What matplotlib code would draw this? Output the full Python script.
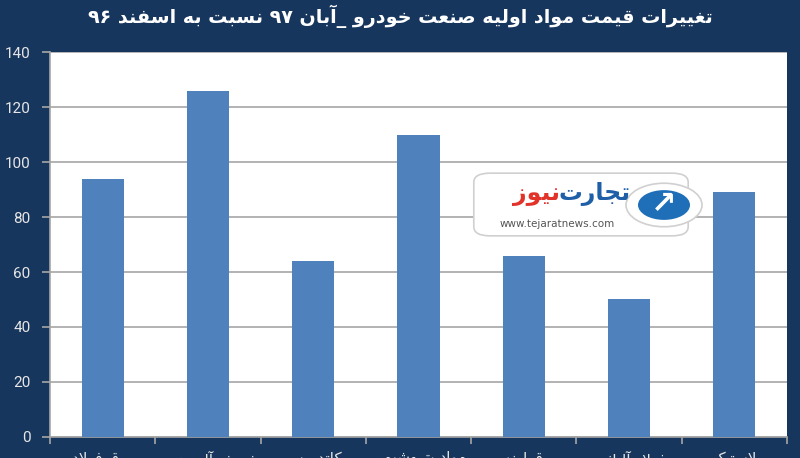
import re
import matplotlib
matplotlib.use('Agg')
import matplotlib.pyplot as plt
from matplotlib.patches import FancyBboxPatch, Circle

# data
categories = ['ورق فولاد', 'شمش آلومینیوم', 'کاتد مس', 'مواد پتروشیمی',
              'قراضه', 'فولاد آلیاژی', 'لاستیک']
values = [94, 126, 64, 110, 66, 50, 89]
yticks = [0, 20, 40, 60, 80, 100, 120, 140]
title = 'تغییرات قیمت مواد اولیه صنعت خودرو _آبان ۹۷ نسبت به اسفند ۹۶'

bg = '#17365d'
bar_color = '#4f81bd'

# minimal arabic/persian shaping (matplotlib does no joining or bidi)
FORMS = {
    'ا': '\ufe8d\ufe8e', 'آ': '\ufe81\ufe82', 'د': '\ufea9\ufeaa', 'ر': '\ufead\ufeae',
    'ز': '\ufeaf\ufeb0', 'ژ': '\ufb8a\ufb8b', 'و': '\ufeed\ufeee',
    'ب': '\ufe8f\ufe90\ufe91\ufe92', 'ت': '\ufe95\ufe96\ufe97\ufe98',
    'ج': '\ufe9d\ufe9e\ufe9f\ufea0', 'خ': '\ufea5\ufea6\ufea7\ufea8',
    'س': '\ufeb1\ufeb2\ufeb3\ufeb4', 'ش': '\ufeb5\ufeb6\ufeb7\ufeb8',
    'ص': '\ufeb9\ufeba\ufebb\ufebc', 'ض': '\ufebd\ufebe\ufebf\ufec0',
    'ع': '\ufec9\ufeca\ufecb\ufecc', 'غ': '\ufecd\ufece\ufecf\ufed0',
    'ف': '\ufed1\ufed2\ufed3\ufed4', 'ق': '\ufed5\ufed6\ufed7\ufed8',
    'ک': '\ufb8e\ufb8f\ufb90\ufb91', 'ل': '\ufedd\ufede\ufedf\ufee0',
    'م': '\ufee1\ufee2\ufee3\ufee4', 'ن': '\ufee5\ufee6\ufee7\ufee8',
    'ه': '\ufee9\ufeea\ufeeb\ufeec', 'ی': '\ufbfc\ufbfd\ufbfe\ufbff',
    'پ': '\ufb56\ufb57\ufb58\ufb59',
}
LAMALEF = {'ا': '\ufefb\ufefc', 'آ': '\ufef5\ufef6'}


def fa(text):
    out = []
    i = 0
    n = len(text)
    while i < n:
        c = text[i]
        prev = text[i - 1] if i > 0 else ''
        jp = prev in FORMS and len(FORMS[prev]) == 4
        if c == 'ل' and i + 1 < n and text[i + 1] in LAMALEF:
            out.append(LAMALEF[text[i + 1]][1 if jp else 0])
            i += 2
            continue
        if c not in FORMS:
            out.append(c)
            i += 1
            continue
        nxt = text[i + 1] if i + 1 < n else ''
        f = FORMS[c]
        jn = len(f) == 4 and nxt in FORMS
        if jp and jn:
            out.append(f[3])
        elif jp:
            out.append(f[1])
        elif jn:
            out.append(f[2])
        else:
            out.append(f[0])
        i += 1
    s = ''.join(out)[::-1]
    return re.sub(r'[0-9\u06f0-\u06f9]+', lambda m: m.group(0)[::-1], s)


fig = plt.figure(figsize=(8, 4.58), dpi=100, facecolor=bg)
ax = fig.add_axes([0.0625, 0.0465, 0.92125, 0.839])
ax.set_facecolor('white')

x = range(len(values))
ax.bar(x, values, width=0.4, color=bar_color, zorder=3)

ax.set_ylim(0, 140)
ax.set_xlim(-0.5, len(values) - 0.5)
ax.set_yticks(yticks)
ax.grid(axis='y', color='#a6a6a6', linewidth=1.2, zorder=0)

ax.set_xticks([k - 0.5 for k in range(len(values) + 1)])
ax.set_xticklabels([])
ax.set_xticks(list(x), minor=True)
ax.set_xticklabels([fa(c) for c in categories], minor=True)
ax.tick_params(axis='x', which='major', length=5, color='#a6a6a6', width=1.2)
ax.tick_params(axis='x', which='minor', length=0, pad=10, labelsize=11,
               labelcolor='#e6e6e6')
ax.tick_params(axis='y', length=6, color='#a6a6a6', width=1.2, pad=8,
               labelsize=11, labelcolor='#e6e6e6')
for lab in ax.get_yticklabels():
    lab.set_family('Roboto')

for side in ['top', 'right']:
    ax.spines[side].set_visible(False)
for side in ['left', 'bottom']:
    ax.spines[side].set_color('#a6a6a6')
    ax.spines[side].set_linewidth(1.2)

fig.text(0.5, 0.99, fa(title), ha='center', va='top', color='white',
         fontsize=13.8, fontweight='bold', family='DejaVu Sans')

# watermark logo (drawn in figure pixel space)
W, H = 800, 458
def px(xp, yp):
    return xp / W, 1 - yp / H

box = FancyBboxPatch(px(477, 234), 208 / W, 59 / H,
                     boxstyle='round,pad=0.004,rounding_size=0.02',
                     transform=fig.transFigure, facecolor='white',
                     edgecolor='#d0d0d0', linewidth=1.2, zorder=10)
fig.patches.append(box)
ring = Circle(px(664, 205), 38 / W, transform=fig.transFigure,
              facecolor='white', edgecolor='#d0d0d0', linewidth=1.2, zorder=11)
fig.patches.append(ring)
disc = Circle(px(664, 205), 26 / W, transform=fig.transFigure,
              facecolor='#1f6fb8', edgecolor='none', zorder=12)
fig.patches.append(disc)
fig.text(*px(664, 205), '\u2197', ha='center', va='center', color='white',
         fontsize=22, fontweight='bold', zorder=13)
fig.text(*px(631, 194), fa('تجارت'), ha='right', va='center', color='#1f5fa8',
         fontsize=17, fontweight='bold', zorder=13)
fig.text(*px(560, 194), fa('نیوز'), ha='right', va='center', color='#e2332b',
         fontsize=17, fontweight='bold', zorder=13)
fig.text(*px(557, 224), 'www.tejaratnews.com', ha='center', va='center',
         color='#555555', fontsize=7.5, zorder=13)

fig.savefig('out.png', dpi=100, facecolor=bg)
